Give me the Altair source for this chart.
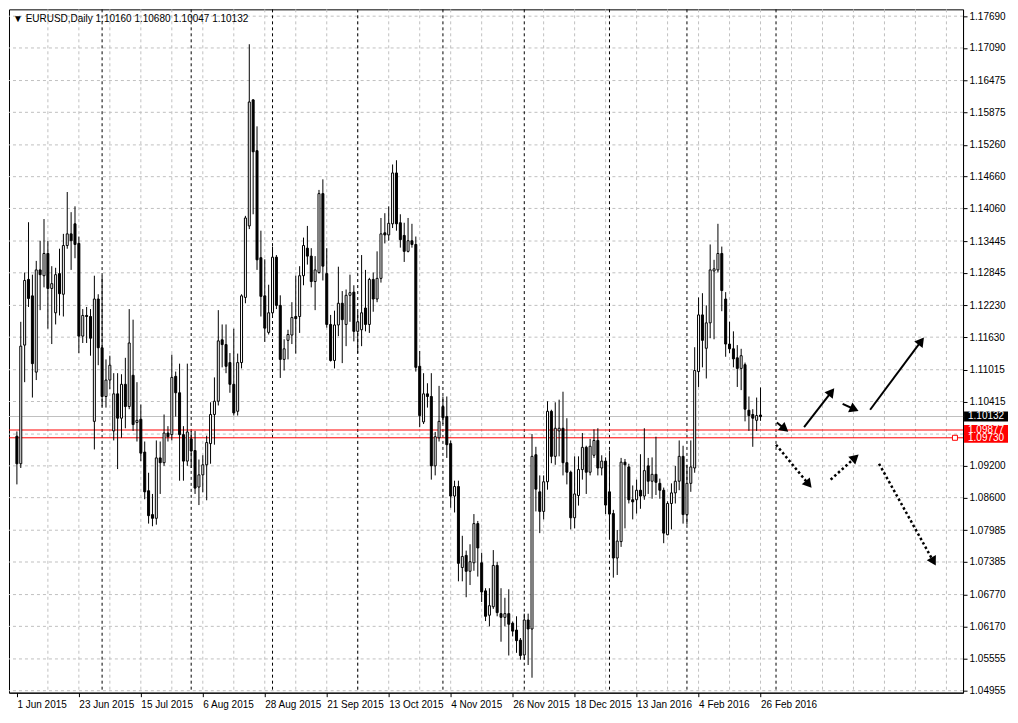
import math
import altair as alt
import pandas as pd

# ---------------- data ----------------
opens = [1.0976,1.0924,1.1148,1.1272,1.1241,1.1097,1.1290,1.1279,1.1321,1.1255,
         1.1209,1.1283,1.1244,1.1336,1.1358,1.1377,1.1340,1.1165,1.1204,1.1202,
         1.1004,1.1235,1.1143,1.1051,1.1082,1.0986,1.1056,1.1010,1.1074,1.1032,
         1.1091,1.1002,1.1008,1.0946,1.0873,1.0828,1.0821,1.0935,1.0926,1.0982,
         1.0979,1.1089,1.1058,1.0979,1.0929,1.0971,1.0949,1.0880,1.0903,1.0922,
         1.0962,1.1017,1.1042,1.1158,1.1149,1.1115,1.1074,1.1023,1.1115,1.1238,
         1.1373,1.1611,1.1515,1.1313,1.1241,1.1172,1.1209,1.1314,1.1223,1.1121,
         1.1157,1.1167,1.1202,1.1202,1.1279,1.1331,1.1316,1.1268,1.1285,1.1434,
         1.1283,1.1187,1.1119,1.1186,1.1227,1.1187,1.1242,1.1248,1.1174,1.1177,
         1.1218,1.1187,1.1272,1.1235,1.1274,1.1360,1.1356,1.1377,1.1473,1.1379,
         1.1355,1.1325,1.1345,1.1338,1.1108,1.1003,1.1056,1.1051,1.0920,1.0973,
         1.1032,1.1013,1.0962,1.0863,1.0881,1.0728,1.0751,1.0721,1.0737,1.0811,
         1.0737,1.0684,1.0638,1.0654,1.0732,1.0641,1.0634,1.0641,1.0623,1.0610,
         1.0591,1.0563,1.0629,1.0612,1.0941,1.0871,1.0834,1.0890,1.1023,1.0938,
         1.0986,1.0991,1.0926,1.0908,1.0822,1.0864,1.0913,1.0955,1.0908,1.0940,
         1.0968,1.0916,1.0929,1.0871,1.0830,1.0746,1.0777,1.0927,1.0918,1.0856,
         1.0856,1.0874,1.0863,1.0920,1.0891,1.0904,1.0887,1.0874,1.0790,1.0849,
         1.0869,1.0891,1.0938,1.0828,1.0887,1.0916,1.1098,1.1205,1.1142,1.1190,
         1.1288,1.1290,1.1321,1.1235,1.1150,1.1141,1.1124,1.1104,1.1111,1.1025,
         1.1017,1.1006,1.1016]
highs = [1.0985,1.1192,1.1285,1.1380,1.1281,1.1307,1.1345,1.1386,1.1345,1.1297,
         1.1294,1.1330,1.1358,1.1437,1.1399,1.1410,1.1353,1.1216,1.1220,1.1216,
         1.1279,1.1244,1.1279,1.1121,1.1128,1.1095,1.1095,1.1093,1.1124,1.1216,
         1.1196,1.1078,1.1036,1.0966,1.0907,1.0867,1.0968,1.0966,1.1017,1.0995,
         1.1130,1.1098,1.1113,1.0995,1.1113,1.0986,1.0986,1.0932,1.0940,1.0977,
         1.1040,1.1087,1.1214,1.1187,1.1187,1.1133,1.1179,1.1132,1.1244,1.1392,
         1.1716,1.1612,1.1561,1.1364,1.1310,1.1262,1.1334,1.1318,1.1242,1.1159,
         1.1177,1.1229,1.1279,1.1297,1.1351,1.1373,1.1331,1.1316,1.1441,1.1461,
         1.1331,1.1205,1.1213,1.1296,1.1250,1.1253,1.1281,1.1261,1.1211,1.1318,
         1.1290,1.1275,1.1285,1.1325,1.1388,1.1397,1.1410,1.1489,1.1497,1.1395,
         1.1379,1.1388,1.1377,1.1353,1.1137,1.1095,1.1076,1.1095,1.0984,1.1071,
         1.1051,1.1051,1.0968,1.0892,1.0892,1.0788,1.0760,1.0772,1.0829,1.0816,
         1.0756,1.0689,1.0689,1.0761,1.0739,1.0689,1.0671,1.0687,1.0626,1.0636,
         1.0595,1.0641,1.0641,1.0980,1.0956,1.0902,1.0902,1.1042,1.1026,1.1040,
         1.1045,1.1060,1.1010,1.0911,1.0938,1.0938,1.0982,1.0958,1.0971,1.0989,
         1.0991,1.0940,1.0936,1.0949,1.0837,1.0799,1.0935,1.0933,1.0924,1.0883,
         1.0894,1.0942,1.0991,1.0935,1.0936,1.0975,1.0896,1.0879,1.0853,1.0887,
         1.0920,1.0968,1.0958,1.0922,1.0968,1.1144,1.1238,1.1246,1.1223,1.1338,
         1.1309,1.1377,1.1334,1.1248,1.1192,1.1174,1.1148,1.1141,1.1115,1.1051,
         1.1027,1.1049,1.1068]
lows = [1.0885,1.0916,1.1078,1.1220,1.1049,1.1082,1.1214,1.1257,1.1179,1.1150,
        1.1187,1.1204,1.1202,1.1330,1.1290,1.1312,1.1133,1.1152,1.1152,1.1128,
        1.0951,1.1110,1.1032,1.1030,1.1065,1.0968,1.0914,1.0973,1.0991,1.1027,
        1.0986,1.0966,1.0929,1.0857,1.0811,1.0806,1.0809,1.0867,1.0920,1.0966,
        1.0968,1.1013,1.0892,1.0892,1.0920,1.0916,1.0867,1.0846,1.0870,1.0855,
        1.0924,1.0960,1.1034,1.1106,1.1095,1.1058,1.1015,1.1015,1.1104,1.1227,
        1.1367,1.1395,1.1290,1.1202,1.1154,1.1168,1.1205,1.1216,1.1086,1.1100,
        1.1121,1.1150,1.1132,1.1171,1.1261,1.1300,1.1257,1.1214,1.1283,1.1270,
        1.1181,1.1117,1.1104,1.1165,1.1114,1.1146,1.1192,1.1155,1.1133,1.1146,
        1.1174,1.1171,1.1211,1.1229,1.1266,1.1340,1.1345,1.1369,1.1364,1.1332,
        1.1305,1.1323,1.1332,1.1098,1.0993,1.0999,1.1030,1.0894,1.0902,1.0966,
        1.0999,1.0935,1.0841,1.0832,1.0702,1.0702,1.0672,1.0695,1.0722,1.0711,
        1.0663,1.0627,1.0617,1.0650,1.0636,1.0588,1.0617,1.0562,1.0598,1.0567,
        1.0554,1.0554,1.0544,1.0520,1.0834,1.0793,1.0819,1.0875,1.0925,1.0922,
        1.0938,1.0902,1.0885,1.0800,1.0802,1.0845,1.0894,1.0867,1.0902,1.0935,
        1.0902,1.0902,1.0829,1.0782,1.0709,1.0714,1.0767,1.0802,1.0849,1.0819,
        1.0830,1.0839,1.0856,1.0867,1.0858,1.0865,1.0858,1.0774,1.0789,1.0800,
        1.0849,1.0874,1.0811,1.0809,1.0871,1.0907,1.1069,1.1106,1.1085,1.1161,
        1.1159,1.1285,1.1212,1.1126,1.1133,1.1106,1.1069,1.1063,1.1004,1.0986,
        1.0956,1.0986,1.1005]
closes = [1.0924,1.1146,1.1270,1.1236,1.1113,1.1290,1.1281,1.1321,1.1255,1.1264,
          1.1281,1.1245,1.1336,1.1358,1.1345,1.1338,1.1165,1.1204,1.1202,1.1161,
          1.1235,1.1143,1.1051,1.1082,1.1110,1.1056,1.1010,1.1074,1.1032,1.1152,
          1.0998,1.1006,1.0944,1.0871,1.0826,1.0821,1.0935,1.0926,1.0982,1.0975,
          1.1087,1.1058,1.0979,1.0929,1.0984,1.0948,1.0878,1.0903,1.0922,1.0964,
          1.1017,1.1042,1.1156,1.1149,1.1108,1.1074,1.1020,1.1115,1.1241,1.1388,
          1.1607,1.1513,1.1309,1.1240,1.1180,1.1209,1.1314,1.1223,1.1121,1.1141,
          1.1168,1.1200,1.1198,1.1279,1.1336,1.1316,1.1268,1.1290,1.1434,1.1297,
          1.1187,1.1119,1.1186,1.1227,1.1196,1.1242,1.1247,1.1174,1.1192,1.1209,
          1.1187,1.1272,1.1235,1.1274,1.1358,1.1356,1.1378,1.1473,1.1377,1.1347,
          1.1325,1.1345,1.1338,1.1106,1.1015,1.1056,1.1051,1.0920,1.0975,1.1004,
          1.1011,1.0960,1.0863,1.0881,1.0736,1.0749,1.0721,1.0739,1.0811,1.0765,
          1.0682,1.0636,1.0656,1.0732,1.0643,1.0634,1.0641,1.0621,1.0608,1.0590,
          1.0562,1.0629,1.0612,1.0938,1.0876,1.0834,1.0890,1.1023,1.0938,1.0991,
          1.0991,1.0926,1.0908,1.0822,1.0867,1.0913,1.0955,1.0908,1.0957,1.0968,
          1.0916,1.0929,1.0846,1.0829,1.0746,1.0778,1.0927,1.0922,1.0856,1.0852,
          1.0874,1.0863,1.0911,1.0891,1.0904,1.0889,1.0874,1.0793,1.0849,1.0869,
          1.0891,1.0938,1.0828,1.0887,1.0918,1.1100,1.1205,1.1157,1.1190,1.1290,
          1.1292,1.1321,1.1251,1.1150,1.1141,1.1122,1.1104,1.1128,1.1027,1.1015,
          1.1010,1.1015,1.1013]

tick_bars = [0, 16, 32, 48, 64, 80, 96, 112, 128, 144, 160, 176, 192]
tick_labels = ["1 Jun 2015", "23 Jun 2015", "15 Jul 2015", "6 Aug 2015",
               "28 Aug 2015", "21 Sep 2015", "13 Oct 2015", "4 Nov 2015",
               "26 Nov 2015", "18 Dec 2015", "13 Jan 2016", "4 Feb 2016",
               "26 Feb 2016"]
grid_bars = list(range(8, 244, 8))
month_sep_bars = [22, 45, 66, 88, 110, 131, 153, 173, 196]

price_labels = [1.17690, 1.17090, 1.16475, 1.15875, 1.15260, 1.14660, 1.14060,
                1.13445, 1.12845, 1.12230, 1.11630, 1.11015, 1.10415, 1.09200,
                1.08600, 1.07985, 1.07385, 1.06770, 1.06170, 1.05555, 1.04955]
price_grid = price_labels + [1.09800]

bid_level = 1.10132
red_levels = [1.09877, 1.09730]
box_prices = [1.10132, 1.09730, 1.09877]
box_texts = ["1.10132", "1.09730", "1.09877"]
box_colors = ["black", "#ff0000", "#ff0000"]

solid_x0 = [196.2, 203.25, 213.2, 220.3]
solid_y0 = [1.1002, 1.0993, 1.1037, 1.1026]
solid_x1 = [199.25, 211.1, 217.4, 234.25]
solid_y1 = [1.0984, 1.1067, 1.1023, 1.1163]
dot_x0 = [196.0, 210.1, 222.6]
dot_y0 = [1.0960, 1.0894, 1.0924]
dot_x1 = [205.25, 217.4, 237.3]
dot_y1 = [1.0878, 1.0942, 1.0731]

header = "\u25bc EURUSD,Daily  1.10160 1.10680 1.10047 1.10132"

# ---------------- layout ----------------
W, H = 955, 684
X_DOM = [-0.75, 243.0]
Y_DOM = [1.04918, 1.17819]
FONT = "Liberation Sans"

xs = alt.Scale(domain=X_DOM, nice=False, zero=False)
ys = alt.Scale(domain=Y_DOM, nice=False, zero=False)

label_expr = "[" + ",".join("'%s'" % s for s in tick_labels) + "][round(datum.value/16)]"
x_axis = alt.Axis(values=tick_bars, labelExpr=label_expr, orient="bottom", grid=False,
                  title=None, domainColor="black", tickColor="black", tickSize=4,
                  labelAlign="left", labelPadding=3, labelFont=FONT, labelFontSize=10,
                  labelColor="black", labelOverlap=False, labelFlush=False, labelBound=False)
y_axis = alt.Axis(values=price_labels, format=".5f", orient="right", grid=False,
                  title=None, domainColor="black", tickColor="black", tickSize=4,
                  labelPadding=2, labelFont=FONT, labelFontSize=10, labelColor="black",
                  labelOverlap=False, labelFlush=False, labelBound=False)


def X(f):
    return alt.X(f, type="quantitative", scale=xs, axis=x_axis)


def Y(f):
    return alt.Y(f, type="quantitative", scale=ys, axis=y_axis)


candles = pd.DataFrame({"bar": list(range(len(opens))), "o": opens, "h": highs,
                        "l": lows, "c": closes})
candles["fill"] = ["white" if c >= o else "black" for o, c in zip(opens, closes)]

vgrid = alt.Chart(pd.DataFrame({"g": grid_bars})).mark_rule(
    color="#c0c0c0", strokeDash=[3, 3], strokeWidth=1).encode(x=X("g"))
hgrid = alt.Chart(pd.DataFrame({"p": price_grid})).mark_rule(
    color="#c0c0c0", strokeDash=[3, 3], strokeWidth=1).encode(y=Y("p"))
seps = alt.Chart(pd.DataFrame({"m": month_sep_bars})).mark_rule(
    color="black", strokeDash=[3, 3], strokeWidth=1).encode(x=X("m"))
bid = alt.Chart(pd.DataFrame({"p": [bid_level]})).mark_rule(
    color="#c0c0c0", strokeWidth=1).encode(y=Y("p"))
reds = alt.Chart(pd.DataFrame({"p": red_levels})).mark_rule(
    color="#ff0000", strokeWidth=1).encode(y=Y("p"))

wicks = alt.Chart(candles).mark_rule(color="black", strokeWidth=1).encode(
    x=X("bar"), y=Y("l"), y2=alt.Y2("h"))
bodies = alt.Chart(candles).mark_bar(size=2, stroke="black", strokeWidth=1).encode(
    x=X("bar"), y=Y("o"), y2=alt.Y2("c"), fill=alt.Fill("fill:N", scale=None))

# arrows
sx = W / (X_DOM[1] - X_DOM[0])
sy = H / (Y_DOM[1] - Y_DOM[0])


def arrow_frame(x0, y0, x1, y1, back=5.0):
    rows = []
    for a, b, c, d in zip(x0, y0, x1, y1):
        dxp = (c - a) * sx
        dyp = -(d - b) * sy
        ln = math.hypot(dxp, dyp)
        ux, uy = dxp / ln, dyp / ln
        ang = math.degrees(math.atan2(ux, -uy)) % 360
        cx = c - back * ux / sx
        cy = d + back * uy / sy
        rows.append({"x0": a, "y0": b, "x1": cx, "y1": cy, "ang": ang})
    return pd.DataFrame(rows)


sa = arrow_frame(solid_x0, solid_y0, solid_x1, solid_y1)
da = arrow_frame(dot_x0, dot_y0, dot_x1, dot_y1)

solid_lines = alt.Chart(sa).mark_rule(color="black", strokeWidth=2).encode(
    x=X("x0"), y=Y("y0"), x2=alt.X2("x1"), y2=alt.Y2("y1"))
dot_lines = alt.Chart(da).mark_rule(color="black", strokeWidth=2.5,
                                    strokeDash=[2.5, 2.5]).encode(
    x=X("x0"), y=Y("y0"), x2=alt.X2("x1"), y2=alt.Y2("y1"))
heads = alt.Chart(pd.concat([sa, da])).mark_point(
    shape="triangle-up", filled=True, color="black", size=110, opacity=1).encode(
    x=X("x1"), y=Y("y1"), angle=alt.Angle("ang:Q", scale=None))

end_marker = alt.Chart(pd.DataFrame({"b": [242.2], "p": [red_levels[1]]})).mark_point(
    shape="square", filled=True, fill="white", stroke="#ff0000", strokeWidth=1,
    size=25, opacity=1).encode(x=X("b"), y=Y("p"))

boxes_df = pd.DataFrame({"p": box_prices, "t": box_texts, "bg": box_colors})
boxes = alt.Chart(boxes_df).mark_rect(yOffset=-5, y2Offset=5, clip=False).encode(
    x=alt.value(W + 1), x2=alt.value(W + 45), y=Y("p"), y2=alt.Y2("p"),
    fill=alt.Fill("bg:N", scale=None))
box_text = alt.Chart(boxes_df).mark_text(align="left", baseline="middle", color="white",
                                         font=FONT, fontSize=10, clip=False).encode(
    x=alt.value(W + 5), y=Y("p"), text="t:N")

head_text = alt.Chart(pd.DataFrame({"t": [header]})).mark_text(
    align="left", baseline="middle", color="black", font=FONT, fontSize=10).encode(
    x=alt.value(4), y=alt.value(10), text="t:N")

chart = alt.layer(
    vgrid, hgrid, seps, bid, reds, wicks, bodies,
    solid_lines, dot_lines, heads, end_marker, boxes, box_text, head_text
).properties(
    width=W, height=H, padding={"left": 0, "top": 0, "right": 2, "bottom": 2},
    background="white"
).configure_view(stroke="black", strokeWidth=1)

chart.save("out.html", embed_options={"renderer": "svg", "actions": False})
